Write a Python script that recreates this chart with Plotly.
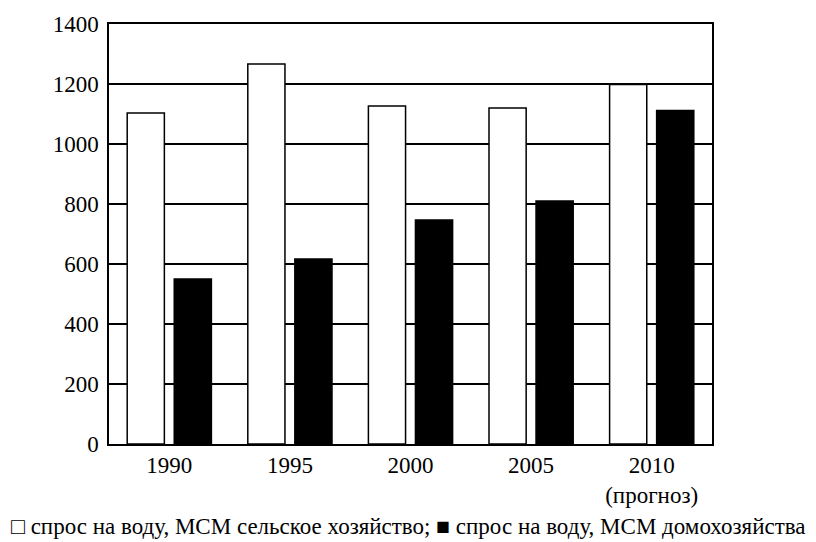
import plotly.graph_objects as go

years = ["1990", "1995", "2000", "2005", "2010"]
tick_labels = ["1990", "1995", "2000", "2005", "2010<br>(прогноз)"]
agri = [1103, 1267, 1127, 1120, 1198]
house = [550, 617, 747, 810, 1112]
name_agri = "спрос на воду, МСМ сельское хозяйство"
name_house = "спрос на воду, МСМ домохозяйства"
y_ticks = [0, 200, 400, 600, 800, 1000, 1200, 1400]

FONT = "Liberation Serif, Times New Roman, serif"

fig = go.Figure()
fig.add_trace(go.Bar(x=years, y=agri, name=name_agri,
                     marker=dict(color="white", line=dict(color="black", width=1.5))))
fig.add_trace(go.Bar(x=years, y=house, name=name_house,
                     marker=dict(color="black", line=dict(color="black", width=1.5))))

fig.update_layout(
    width=816, height=542,
    margin=dict(l=101, r=112, t=16, b=106),
    paper_bgcolor="white", plot_bgcolor="white",
    barmode="group", bargap=0.22, bargroupgap=0.21,
    showlegend=False,
    font=dict(family=FONT, size=23, color="black"),
)
fig.update_xaxes(
    type="category", tickvals=years, ticktext=tick_labels,
    showline=True, linecolor="black", linewidth=1.5, mirror=True,
    showgrid=False, ticks="", ticklen=0, automargin=False,
    tickfont=dict(family=FONT, size=23, color="black"),
)
fig.update_yaxes(
    range=[0, 1400], tickvals=y_ticks,
    showline=True, linecolor="black", linewidth=1.5, mirror=True,
    showgrid=True, gridcolor="black", gridwidth=1.7,
    zeroline=False, ticks="outside", ticklen=4, tickcolor="rgba(0,0,0,0)",
    automargin=False,
    tickfont=dict(family=FONT, size=23, color="black"),
)

fig.add_annotation(
    xref="paper", yref="paper", x=-0.166, y=0, yshift=-68,
    xanchor="left", yanchor="top", showarrow=False,
    text="□ " + name_agri + "; ■ " + name_house,
    font=dict(family=FONT, size=23, color="black"),
)

fig.write_html("out.html")
